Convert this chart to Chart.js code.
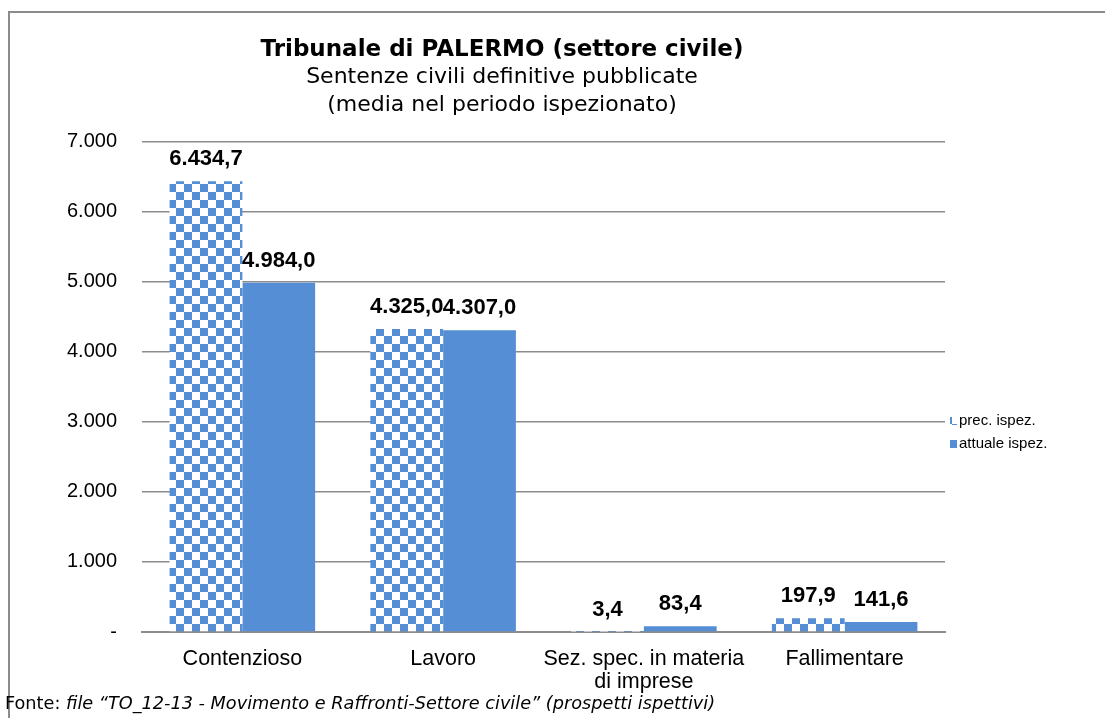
<!DOCTYPE html>
<html>
<head>
<meta charset="utf-8">
<script src="https://cdn.jsdelivr.net/npm/chart.js@4.4.1/dist/chart.umd.min.js"></script>
<style>
  html, body { margin: 0; padding: 0; background: #fff; }
  #wrap { position: absolute; left: 0; top: 0; width: 1105px; height: 718px; }
  #frame { position: absolute; left: 8px; top: 11px; right: 0; bottom: 0; border-left: 2px solid #8c8c8c; border-top: 2px solid #8c8c8c; }
  #fonte { position: absolute; left: 5px; top: 693px; font: 17.7px "DejaVu Sans", sans-serif; color: #000; white-space: nowrap; }
  #fonte i { font-style: italic; }
</style>
</head>
<body>
<div id="wrap">
  <div id="frame"></div>
  <canvas id="chart" width="1105" height="718"></canvas>
  <div id="fonte">Fonte: <i>file “TO_12-13 - Movimento e Raffronti-Settore civile” (prospetti ispettivi)</i></div>
</div>
<script>
// dati
const categorie = ['Contenzioso', 'Lavoro', ['Sez. spec. in materia', 'di imprese'], 'Fallimentare'];
const precIspez = [6434.7, 4325.0, 3.4, 197.9];
const attualeIspez = [4984.0, 4307.0, 83.4, 141.6];
const nomiSerie = ['prec. ispez.', 'attuale ispez.'];

const BLU = '#558ED5';

// formato italiano: 6.434,7
function formatIt(v, dec) {
    const parts = v.toFixed(dec).split('.');
    parts[0] = parts[0].replace(/\B(?=(\d{3})+(?!\d))/g, '.');
    return parts.join(',');
}

const canvas = document.getElementById('chart');
const ctx = canvas.getContext('2d');

// pattern a scacchiera per la serie precedente
function scacchiera(color) {
    const c = document.createElement('canvas');
    c.width = 16; c.height = 16;
    const x = c.getContext('2d');
    x.fillStyle = '#fff';
    x.fillRect(0, 0, 16, 16);
    x.fillStyle = color;
    x.fillRect(0, 0, 8, 8);
    x.fillRect(8, 8, 8, 8);
    return ctx.createPattern(c, 'repeat');
}

// etichette dei valori sopra le barre
const etichette = {
    id: 'etichette',
    afterDatasetsDraw(chart) {
        const c = chart.ctx;
        c.save();
        c.font = 'bold 22px "Liberation Sans", Arial, sans-serif';
        c.fillStyle = '#000';
        c.textAlign = 'center';
        c.textBaseline = 'middle';
        chart.data.datasets.forEach((ds, i) => {
            chart.getDatasetMeta(i).data.forEach((bar, j) => {
                c.fillText(formatIt(ds.data[j], 1), bar.x, bar.y - 22);
            });
        });
        c.restore();
    }
};

// legenda a destra come nell'originale
const legenda = {
    id: 'legenda',
    afterDraw(chart) {
        const c = chart.ctx;
        const area = chart.chartArea;
        c.save();
        c.font = '15px "Liberation Sans", Arial, sans-serif';
        c.textBaseline = 'middle';
        chart.data.datasets.forEach((ds, i) => {
            const y = 421 + i * 23;
            const x = area.right + 5;
            c.fillStyle = ds.backgroundColor;
            c.fillRect(x, y - 4, 7, 8);
            c.fillStyle = '#000';
            c.fillText(ds.label, x + 9, y);
        });
        c.restore();
    }
};

new Chart(canvas, {
    type: 'bar',
    data: {
        labels: categorie,
        datasets: [
            {
                label: nomiSerie[0],
                data: precIspez,
                backgroundColor: scacchiera(BLU),
                borderWidth: 0,
            },
            {
                label: nomiSerie[1],
                data: attualeIspez,
                backgroundColor: BLU,
                borderWidth: 0,
            },
        ],
    },
    options: {
        responsive: false,
        animation: false,
        layout: { padding: { left: 59, right: 160, top: 0, bottom: 0 } },
        datasets: {
            bar: { categoryPercentage: 0.725, barPercentage: 1.0 }
        },
        plugins: {
            legend: { display: false },
            tooltip: { enabled: false },
            title: {
                display: true,
                text: 'Tribunale di PALERMO (settore civile)',
                color: '#000',
                font: { family: '"DejaVu Sans", Verdana, sans-serif', size: 23, weight: 'bold', lineHeight: 1.2 },
                padding: { top: 36, bottom: 0 },
            },
            subtitle: {
                display: true,
                text: ['Sentenze civili definitive pubblicate', '(media nel periodo ispezionato)'],
                color: '#000',
                font: { family: '"DejaVu Sans", Verdana, sans-serif', size: 22, weight: 'normal', lineHeight: 1.273 },
                padding: { top: 0, bottom: 22 },
            },
        },
        scales: {
            x: {
                grid: { display: false, drawTicks: false },
                border: { display: true, color: '#8c8c8c', width: 2 },
                ticks: {
                    color: '#000',
                    padding: 16,
                    maxRotation: 0,
                    autoSkip: false,
                    font: { family: '"Liberation Sans", Arial, sans-serif', size: 21.5, lineHeight: 1.07 },
                },
                afterFit(scale) { scale.height = 86; },
            },
            y: {
                min: 0,
                max: 7000,
                grid: { color: '#8c8c8c', lineWidth: 1.5, drawTicks: false },
                border: { display: false },
                ticks: {
                    stepSize: 1000,
                    color: '#000',
                    padding: 25,
                    font: { family: '"Liberation Sans", Arial, sans-serif', size: 20 },
                    callback: v => v === 0 ? '-' : formatIt(v, 0),
                },
                afterFit(scale) { scale.width = 83; },
            },
        },
    },
    plugins: [etichette, legenda],
});
</script>
</body>
</html>
